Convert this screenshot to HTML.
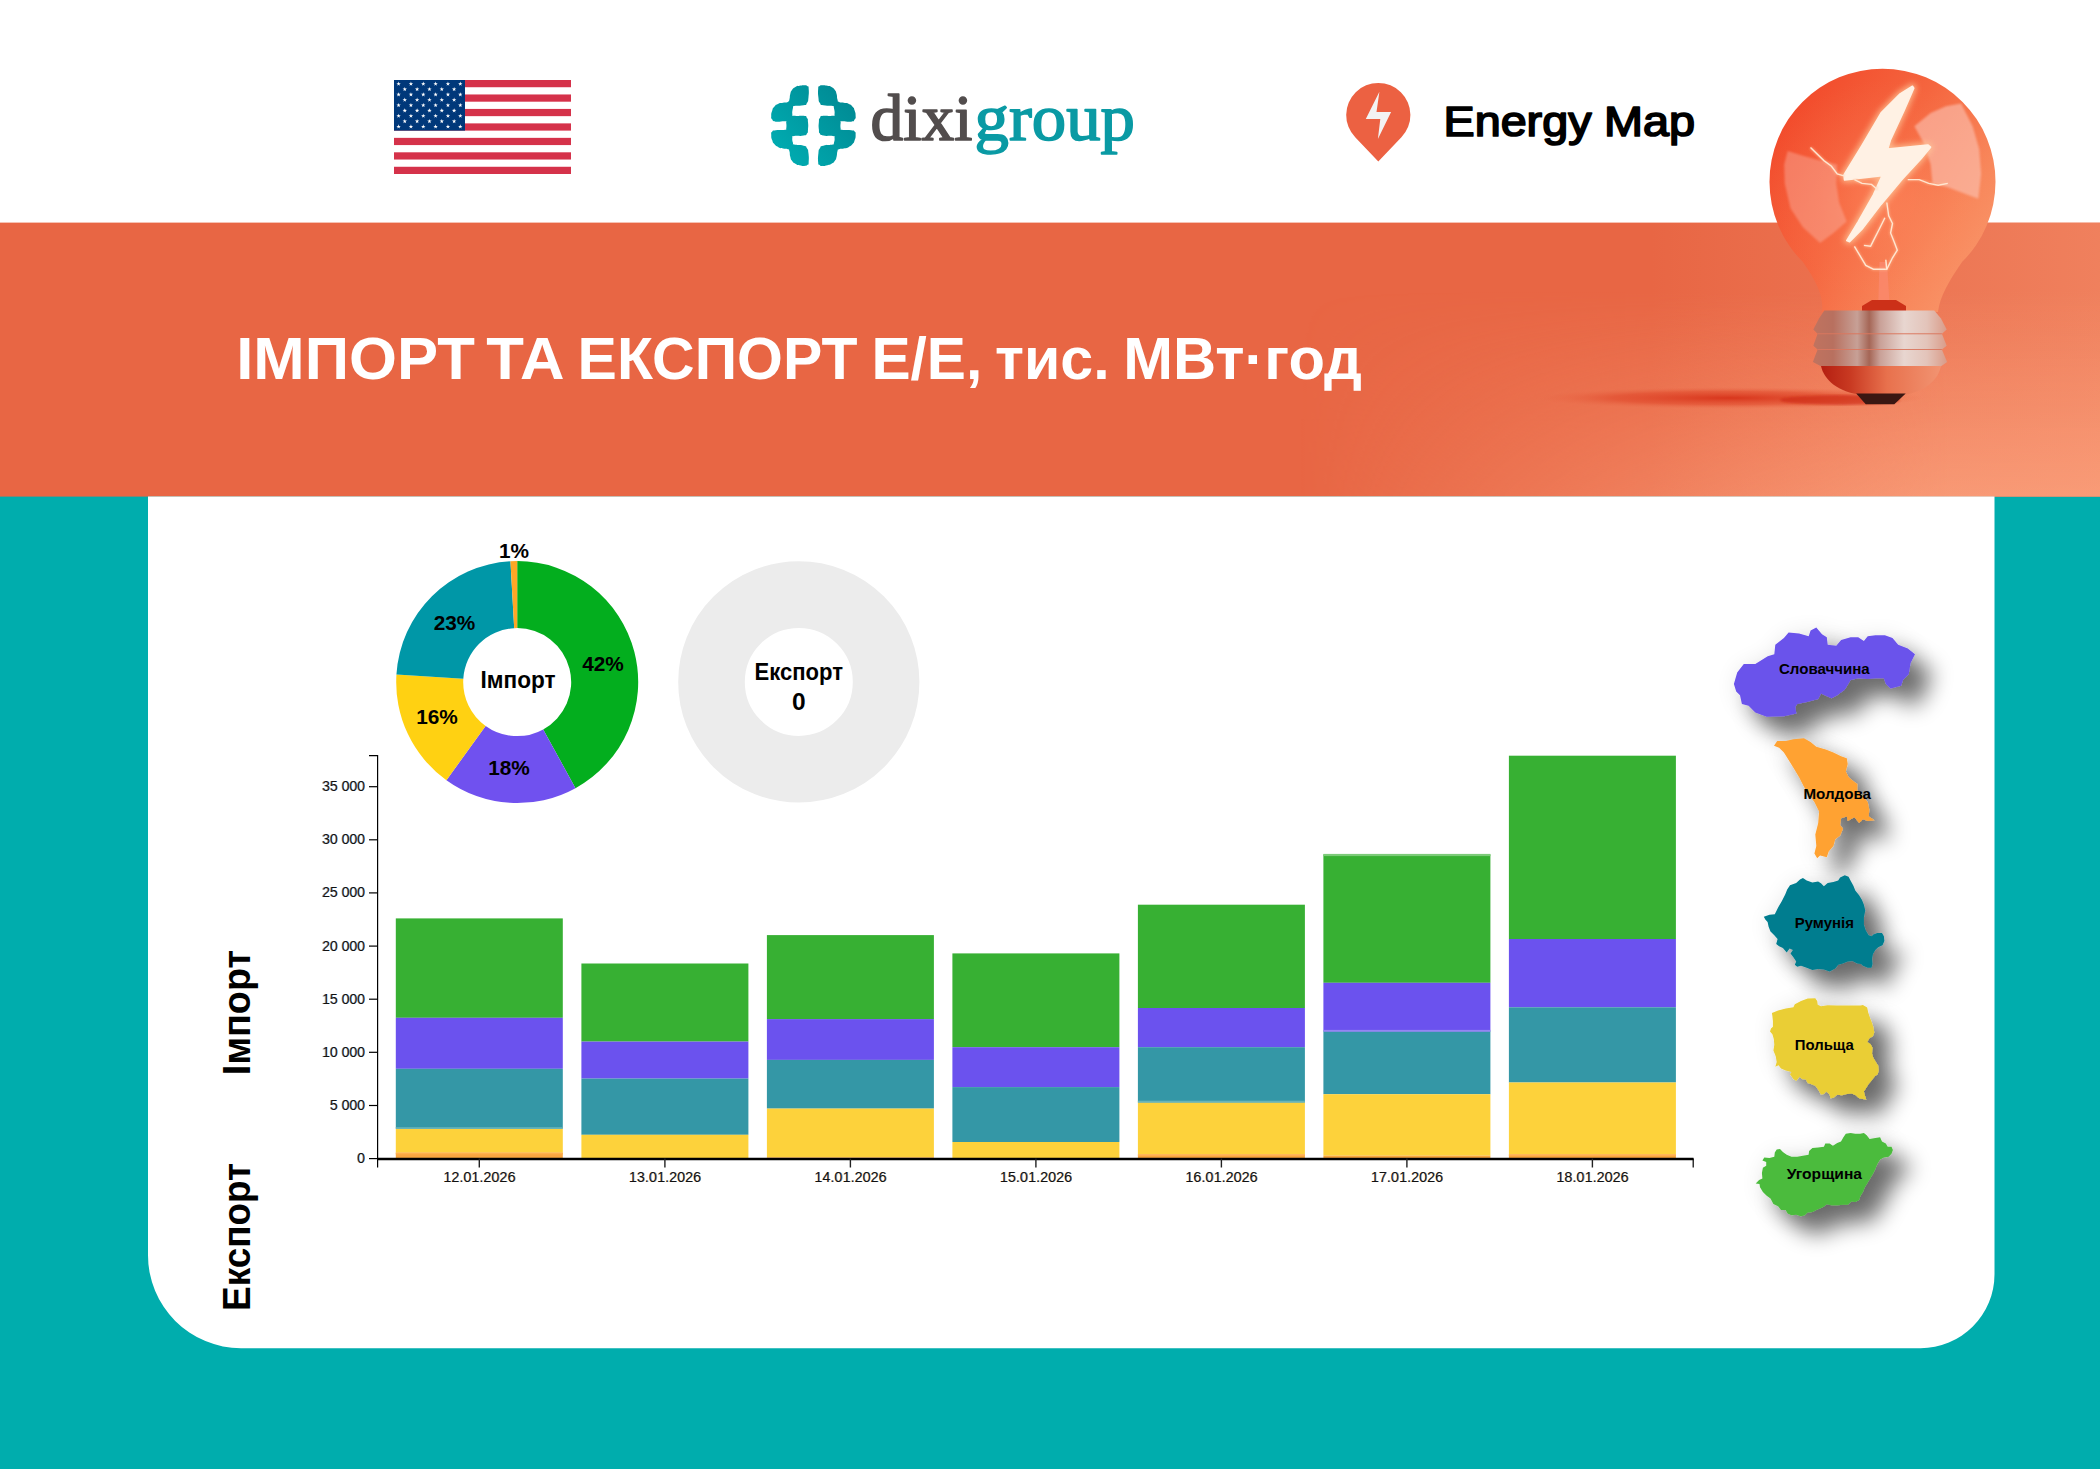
<!DOCTYPE html>
<html><head><meta charset="utf-8"><title>Import Export</title>
<style>html,body{margin:0;padding:0;background:#00ADAD;overflow:hidden;width:2100px;height:1469px}svg{display:block}</style>
</head><body>
<svg width="2100" height="1469" viewBox="0 0 2100 1469">
<defs>
<linearGradient id="bannerG" gradientUnits="userSpaceOnUse" x1="1650" y1="0" x2="2100" y2="0">
 <stop offset="0" stop-color="#F9A07C" stop-opacity="0"/><stop offset="1" stop-color="#F9A07C" stop-opacity="0.45"/>
</linearGradient>
<linearGradient id="bannerV" gradientUnits="userSpaceOnUse" x1="0" y1="290" x2="0" y2="497">
 <stop offset="0" stop-color="#FBA27E" stop-opacity="0"/><stop offset="1" stop-color="#FBA27E" stop-opacity="0.8"/>
</linearGradient>
<linearGradient id="bannerM" gradientUnits="userSpaceOnUse" x1="1300" y1="0" x2="1950" y2="0">
 <stop offset="0" stop-color="#000"/><stop offset="1" stop-color="#fff"/>
</linearGradient>
<mask id="bannerMask" maskUnits="userSpaceOnUse" x="1200" y="200" width="900" height="320"><rect x="1200" y="200" width="900" height="320" fill="url(#bannerM)"/></mask>
<filter id="ds" x="-50%" y="-50%" width="220%" height="220%">
 <feGaussianBlur in="SourceAlpha" stdDeviation="11"/>
 <feOffset dx="18" dy="18"/>
 <feComponentTransfer result="s1"><feFuncA type="linear" slope="0.55"/></feComponentTransfer>
 <feGaussianBlur in="SourceAlpha" stdDeviation="12"/>
 <feOffset dx="3" dy="3"/>
 <feComponentTransfer result="s2"><feFuncA type="linear" slope="0.12"/></feComponentTransfer>
 <feMerge><feMergeNode in="s2"/><feMergeNode in="s1"/><feMergeNode in="SourceGraphic"/></feMerge>
</filter>
</defs>
<rect x="0" y="0" width="2100" height="1469" fill="#00ADAD"/>
<rect x="0" y="0" width="2100" height="223" fill="#ffffff"/>
<rect x="0" y="222.6" width="2100" height="274" fill="#E86644"/>
<rect x="1300" y="222.6" width="800" height="274" fill="url(#bannerG)"/>
<rect x="1200" y="222.6" width="900" height="274" fill="url(#bannerV)" mask="url(#bannerMask)"/>
<path d="M148 496.6 H1994.5 V1274.2 A74 74 0 0 1 1920.5 1348.2 H241 A93 93 0 0 1 148 1255.2 Z" fill="#ffffff"/>

<text x="236.2" y="379.4" font-family="Liberation Sans, sans-serif" font-weight="700" font-size="60" fill="#ffffff" textLength="238.7" lengthAdjust="spacingAndGlyphs">ІМПОРТ</text>
<text x="486.3" y="379.4" font-family="Liberation Sans, sans-serif" font-weight="700" font-size="60" fill="#ffffff" textLength="78.3" lengthAdjust="spacingAndGlyphs">ТА</text>
<text x="577.6" y="379.4" font-family="Liberation Sans, sans-serif" font-weight="700" font-size="60" fill="#ffffff" textLength="279.9" lengthAdjust="spacingAndGlyphs">ЕКСПОРТ</text>
<text x="871.4" y="379.4" font-family="Liberation Sans, sans-serif" font-weight="700" font-size="60" fill="#ffffff" textLength="110.8" lengthAdjust="spacingAndGlyphs">Е/Е,</text>
<text x="995.1" y="379.4" font-family="Liberation Sans, sans-serif" font-weight="700" font-size="60" fill="#ffffff" textLength="114.5" lengthAdjust="spacingAndGlyphs">тис.</text>
<text x="1123.2" y="379.4" font-family="Liberation Sans, sans-serif" font-weight="700" font-size="60" fill="#ffffff" textLength="238.8" lengthAdjust="spacingAndGlyphs">МВт·год</text>
<g><rect x="394" y="80" width="177" height="94" fill="#ffffff"/><rect x="394" y="80.00" width="177" height="7.23" fill="#D5324A"/><rect x="394" y="94.46" width="177" height="7.23" fill="#D5324A"/><rect x="394" y="108.92" width="177" height="7.23" fill="#D5324A"/><rect x="394" y="123.38" width="177" height="7.23" fill="#D5324A"/><rect x="394" y="137.85" width="177" height="7.23" fill="#D5324A"/><rect x="394" y="152.31" width="177" height="7.23" fill="#D5324A"/><rect x="394" y="166.77" width="177" height="7.23" fill="#D5324A"/><rect x="394" y="80" width="71" height="50.62" fill="#00387A"/><polygon points="398.60,81.60 399.14,83.16 400.79,83.19 399.47,84.18 399.95,85.76 398.60,84.82 397.25,85.76 397.73,84.18 396.41,83.19 398.06,83.16" fill="#ffffff"/><polygon points="410.94,81.60 411.48,83.16 413.13,83.19 411.81,84.18 412.29,85.76 410.94,84.82 409.59,85.76 410.07,84.18 408.75,83.19 410.40,83.16" fill="#ffffff"/><polygon points="423.28,81.60 423.82,83.16 425.47,83.19 424.15,84.18 424.63,85.76 423.28,84.82 421.93,85.76 422.41,84.18 421.09,83.19 422.74,83.16" fill="#ffffff"/><polygon points="435.62,81.60 436.16,83.16 437.81,83.19 436.49,84.18 436.97,85.76 435.62,84.82 434.27,85.76 434.75,84.18 433.43,83.19 435.08,83.16" fill="#ffffff"/><polygon points="447.96,81.60 448.50,83.16 450.15,83.19 448.83,84.18 449.31,85.76 447.96,84.82 446.61,85.76 447.09,84.18 445.77,83.19 447.42,83.16" fill="#ffffff"/><polygon points="460.30,81.60 460.84,83.16 462.49,83.19 461.17,84.18 461.65,85.76 460.30,84.82 458.95,85.76 459.43,84.18 458.11,83.19 459.76,83.16" fill="#ffffff"/><polygon points="404.77,86.94 405.31,88.50 406.96,88.53 405.64,89.52 406.12,91.10 404.77,90.16 403.42,91.10 403.90,89.52 402.58,88.53 404.23,88.50" fill="#ffffff"/><polygon points="417.11,86.94 417.65,88.50 419.30,88.53 417.98,89.52 418.46,91.10 417.11,90.16 415.76,91.10 416.24,89.52 414.92,88.53 416.57,88.50" fill="#ffffff"/><polygon points="429.45,86.94 429.99,88.50 431.64,88.53 430.32,89.52 430.80,91.10 429.45,90.16 428.10,91.10 428.58,89.52 427.26,88.53 428.91,88.50" fill="#ffffff"/><polygon points="441.79,86.94 442.33,88.50 443.98,88.53 442.66,89.52 443.14,91.10 441.79,90.16 440.44,91.10 440.92,89.52 439.60,88.53 441.25,88.50" fill="#ffffff"/><polygon points="454.13,86.94 454.67,88.50 456.32,88.53 455.00,89.52 455.48,91.10 454.13,90.16 452.78,91.10 453.26,89.52 451.94,88.53 453.59,88.50" fill="#ffffff"/><polygon points="398.60,92.28 399.14,93.84 400.79,93.87 399.47,94.86 399.95,96.44 398.60,95.50 397.25,96.44 397.73,94.86 396.41,93.87 398.06,93.84" fill="#ffffff"/><polygon points="410.94,92.28 411.48,93.84 413.13,93.87 411.81,94.86 412.29,96.44 410.94,95.50 409.59,96.44 410.07,94.86 408.75,93.87 410.40,93.84" fill="#ffffff"/><polygon points="423.28,92.28 423.82,93.84 425.47,93.87 424.15,94.86 424.63,96.44 423.28,95.50 421.93,96.44 422.41,94.86 421.09,93.87 422.74,93.84" fill="#ffffff"/><polygon points="435.62,92.28 436.16,93.84 437.81,93.87 436.49,94.86 436.97,96.44 435.62,95.50 434.27,96.44 434.75,94.86 433.43,93.87 435.08,93.84" fill="#ffffff"/><polygon points="447.96,92.28 448.50,93.84 450.15,93.87 448.83,94.86 449.31,96.44 447.96,95.50 446.61,96.44 447.09,94.86 445.77,93.87 447.42,93.84" fill="#ffffff"/><polygon points="460.30,92.28 460.84,93.84 462.49,93.87 461.17,94.86 461.65,96.44 460.30,95.50 458.95,96.44 459.43,94.86 458.11,93.87 459.76,93.84" fill="#ffffff"/><polygon points="404.77,97.62 405.31,99.18 406.96,99.21 405.64,100.20 406.12,101.78 404.77,100.84 403.42,101.78 403.90,100.20 402.58,99.21 404.23,99.18" fill="#ffffff"/><polygon points="417.11,97.62 417.65,99.18 419.30,99.21 417.98,100.20 418.46,101.78 417.11,100.84 415.76,101.78 416.24,100.20 414.92,99.21 416.57,99.18" fill="#ffffff"/><polygon points="429.45,97.62 429.99,99.18 431.64,99.21 430.32,100.20 430.80,101.78 429.45,100.84 428.10,101.78 428.58,100.20 427.26,99.21 428.91,99.18" fill="#ffffff"/><polygon points="441.79,97.62 442.33,99.18 443.98,99.21 442.66,100.20 443.14,101.78 441.79,100.84 440.44,101.78 440.92,100.20 439.60,99.21 441.25,99.18" fill="#ffffff"/><polygon points="454.13,97.62 454.67,99.18 456.32,99.21 455.00,100.20 455.48,101.78 454.13,100.84 452.78,101.78 453.26,100.20 451.94,99.21 453.59,99.18" fill="#ffffff"/><polygon points="398.60,102.96 399.14,104.52 400.79,104.55 399.47,105.54 399.95,107.12 398.60,106.18 397.25,107.12 397.73,105.54 396.41,104.55 398.06,104.52" fill="#ffffff"/><polygon points="410.94,102.96 411.48,104.52 413.13,104.55 411.81,105.54 412.29,107.12 410.94,106.18 409.59,107.12 410.07,105.54 408.75,104.55 410.40,104.52" fill="#ffffff"/><polygon points="423.28,102.96 423.82,104.52 425.47,104.55 424.15,105.54 424.63,107.12 423.28,106.18 421.93,107.12 422.41,105.54 421.09,104.55 422.74,104.52" fill="#ffffff"/><polygon points="435.62,102.96 436.16,104.52 437.81,104.55 436.49,105.54 436.97,107.12 435.62,106.18 434.27,107.12 434.75,105.54 433.43,104.55 435.08,104.52" fill="#ffffff"/><polygon points="447.96,102.96 448.50,104.52 450.15,104.55 448.83,105.54 449.31,107.12 447.96,106.18 446.61,107.12 447.09,105.54 445.77,104.55 447.42,104.52" fill="#ffffff"/><polygon points="460.30,102.96 460.84,104.52 462.49,104.55 461.17,105.54 461.65,107.12 460.30,106.18 458.95,107.12 459.43,105.54 458.11,104.55 459.76,104.52" fill="#ffffff"/><polygon points="404.77,108.30 405.31,109.86 406.96,109.89 405.64,110.88 406.12,112.46 404.77,111.52 403.42,112.46 403.90,110.88 402.58,109.89 404.23,109.86" fill="#ffffff"/><polygon points="417.11,108.30 417.65,109.86 419.30,109.89 417.98,110.88 418.46,112.46 417.11,111.52 415.76,112.46 416.24,110.88 414.92,109.89 416.57,109.86" fill="#ffffff"/><polygon points="429.45,108.30 429.99,109.86 431.64,109.89 430.32,110.88 430.80,112.46 429.45,111.52 428.10,112.46 428.58,110.88 427.26,109.89 428.91,109.86" fill="#ffffff"/><polygon points="441.79,108.30 442.33,109.86 443.98,109.89 442.66,110.88 443.14,112.46 441.79,111.52 440.44,112.46 440.92,110.88 439.60,109.89 441.25,109.86" fill="#ffffff"/><polygon points="454.13,108.30 454.67,109.86 456.32,109.89 455.00,110.88 455.48,112.46 454.13,111.52 452.78,112.46 453.26,110.88 451.94,109.89 453.59,109.86" fill="#ffffff"/><polygon points="398.60,113.64 399.14,115.20 400.79,115.23 399.47,116.22 399.95,117.80 398.60,116.86 397.25,117.80 397.73,116.22 396.41,115.23 398.06,115.20" fill="#ffffff"/><polygon points="410.94,113.64 411.48,115.20 413.13,115.23 411.81,116.22 412.29,117.80 410.94,116.86 409.59,117.80 410.07,116.22 408.75,115.23 410.40,115.20" fill="#ffffff"/><polygon points="423.28,113.64 423.82,115.20 425.47,115.23 424.15,116.22 424.63,117.80 423.28,116.86 421.93,117.80 422.41,116.22 421.09,115.23 422.74,115.20" fill="#ffffff"/><polygon points="435.62,113.64 436.16,115.20 437.81,115.23 436.49,116.22 436.97,117.80 435.62,116.86 434.27,117.80 434.75,116.22 433.43,115.23 435.08,115.20" fill="#ffffff"/><polygon points="447.96,113.64 448.50,115.20 450.15,115.23 448.83,116.22 449.31,117.80 447.96,116.86 446.61,117.80 447.09,116.22 445.77,115.23 447.42,115.20" fill="#ffffff"/><polygon points="460.30,113.64 460.84,115.20 462.49,115.23 461.17,116.22 461.65,117.80 460.30,116.86 458.95,117.80 459.43,116.22 458.11,115.23 459.76,115.20" fill="#ffffff"/><polygon points="404.77,118.98 405.31,120.54 406.96,120.57 405.64,121.56 406.12,123.14 404.77,122.20 403.42,123.14 403.90,121.56 402.58,120.57 404.23,120.54" fill="#ffffff"/><polygon points="417.11,118.98 417.65,120.54 419.30,120.57 417.98,121.56 418.46,123.14 417.11,122.20 415.76,123.14 416.24,121.56 414.92,120.57 416.57,120.54" fill="#ffffff"/><polygon points="429.45,118.98 429.99,120.54 431.64,120.57 430.32,121.56 430.80,123.14 429.45,122.20 428.10,123.14 428.58,121.56 427.26,120.57 428.91,120.54" fill="#ffffff"/><polygon points="441.79,118.98 442.33,120.54 443.98,120.57 442.66,121.56 443.14,123.14 441.79,122.20 440.44,123.14 440.92,121.56 439.60,120.57 441.25,120.54" fill="#ffffff"/><polygon points="454.13,118.98 454.67,120.54 456.32,120.57 455.00,121.56 455.48,123.14 454.13,122.20 452.78,123.14 453.26,121.56 451.94,120.57 453.59,120.54" fill="#ffffff"/><polygon points="398.60,124.32 399.14,125.88 400.79,125.91 399.47,126.90 399.95,128.48 398.60,127.54 397.25,128.48 397.73,126.90 396.41,125.91 398.06,125.88" fill="#ffffff"/><polygon points="410.94,124.32 411.48,125.88 413.13,125.91 411.81,126.90 412.29,128.48 410.94,127.54 409.59,128.48 410.07,126.90 408.75,125.91 410.40,125.88" fill="#ffffff"/><polygon points="423.28,124.32 423.82,125.88 425.47,125.91 424.15,126.90 424.63,128.48 423.28,127.54 421.93,128.48 422.41,126.90 421.09,125.91 422.74,125.88" fill="#ffffff"/><polygon points="435.62,124.32 436.16,125.88 437.81,125.91 436.49,126.90 436.97,128.48 435.62,127.54 434.27,128.48 434.75,126.90 433.43,125.91 435.08,125.88" fill="#ffffff"/><polygon points="447.96,124.32 448.50,125.88 450.15,125.91 448.83,126.90 449.31,128.48 447.96,127.54 446.61,128.48 447.09,126.90 445.77,125.91 447.42,125.88" fill="#ffffff"/><polygon points="460.30,124.32 460.84,125.88 462.49,125.91 461.17,126.90 461.65,128.48 460.30,127.54 458.95,128.48 459.43,126.90 458.11,125.91 459.76,125.88" fill="#ffffff"/></g>
<defs><linearGradient id="dixiG" gradientUnits="userSpaceOnUse" x1="775" y1="160" x2="852" y2="92">
<stop offset="0" stop-color="#00AEB3"/><stop offset="1" stop-color="#008892"/></linearGradient></defs><path d="M808.67 88.61 C808.40 84.87 809.13 87.37 807.65 86.23 C806.18 85.10 806.97 85.37 804.25 85.21 C801.52 85.05 802.43 85.19 799.48 85.76 C796.53 86.32 797.89 85.51 795.40 86.91 C792.90 88.32 793.70 87.59 791.99 89.98 C790.29 92.36 791.15 90.88 790.29 94.06 C789.43 97.24 790.20 96.90 789.41 99.51 C788.61 102.12 790.00 100.80 787.91 101.89 C785.82 102.98 786.32 102.16 783.14 102.77 C779.97 103.39 781.33 102.43 778.38 103.73 C775.43 105.02 776.34 104.43 774.30 106.65 C772.25 108.88 773.27 107.33 772.25 110.40 C771.23 113.46 771.23 112.78 771.23 115.84 C771.23 118.91 770.78 117.66 772.25 119.59 C773.73 121.52 771.35 121.06 775.66 121.63 C779.97 122.20 781.67 120.95 785.19 121.29 C788.70 121.63 785.87 120.16 786.21 122.65 C786.55 125.15 786.55 126.40 786.21 128.78 C785.87 131.16 788.70 129.35 785.19 129.80 C781.67 130.25 779.97 129.57 775.66 130.14 C771.35 130.71 773.73 129.91 772.25 131.50 C770.78 133.09 771.23 131.95 771.23 134.90 C771.23 137.85 771.23 137.29 772.25 140.35 C773.27 143.41 772.25 141.83 774.30 144.09 C776.34 146.36 775.43 145.73 778.38 147.16 C781.33 148.59 779.97 147.70 783.14 148.38 C786.32 149.06 785.82 148.25 787.91 149.20 C790.00 150.15 788.61 148.75 789.41 151.24 C790.20 153.74 789.43 153.51 790.29 156.69 C791.15 159.86 790.29 158.39 791.99 160.77 C793.70 163.16 792.90 162.36 795.40 163.84 C797.89 165.31 796.53 164.52 799.48 165.20 C802.43 165.88 801.52 165.99 804.25 165.88 C806.97 165.76 806.18 165.99 807.65 164.86 C809.13 163.72 808.40 166.33 808.67 162.47 C808.94 158.62 809.04 158.05 808.47 153.28 C807.90 148.52 808.60 150.72 806.97 148.18 C805.34 145.64 807.88 146.86 803.57 145.66 C799.26 144.46 797.55 145.43 794.04 144.57 C790.52 143.71 793.58 145.39 793.02 143.07 C792.45 140.76 791.99 140.01 792.33 137.63 C792.68 135.25 790.29 136.61 794.04 135.93 C797.78 135.25 799.26 136.38 803.57 135.59 C807.88 134.79 805.50 135.59 806.97 133.54 C808.45 131.50 807.65 133.32 807.99 129.46 C808.33 125.60 808.33 125.83 807.99 121.97 C807.65 118.11 808.45 119.93 806.97 117.89 C805.50 115.84 807.88 116.52 803.57 115.84 C799.26 115.16 797.78 116.41 794.04 115.84 C790.29 115.28 792.68 116.87 792.33 114.14 C791.99 111.42 792.45 110.40 793.02 107.68 C793.58 104.95 790.52 106.77 794.04 105.97 C797.55 105.18 799.26 106.31 803.57 105.29 C807.88 104.27 805.34 105.52 806.97 102.91 C808.60 100.30 807.90 102.23 808.47 97.46 C809.04 92.70 808.94 92.36 808.67 88.61 Z" fill="url(#dixiG)"/><path d="M818.41 97.46 C818.97 102.23 818.27 100.30 819.90 102.91 C821.54 105.52 819.00 104.27 823.31 105.29 C827.62 106.31 829.32 105.18 832.84 105.97 C836.36 106.77 833.29 104.95 833.86 107.68 C834.43 110.40 834.88 111.42 834.54 114.14 C834.20 116.87 836.58 115.28 832.84 115.84 C829.09 116.41 827.62 115.16 823.31 115.84 C819.00 116.52 821.38 115.84 819.90 117.89 C818.43 119.93 819.22 118.11 818.88 121.97 C818.54 125.83 818.54 125.60 818.88 129.46 C819.22 133.32 818.43 131.50 819.90 133.54 C821.38 135.59 819.00 134.79 823.31 135.59 C827.62 136.38 829.09 135.25 832.84 135.93 C836.58 136.61 834.20 135.25 834.54 137.63 C834.88 140.01 834.43 140.76 833.86 143.07 C833.29 145.39 836.36 143.71 832.84 144.57 C829.32 145.43 827.62 144.46 823.31 145.66 C819.00 146.86 821.54 145.64 819.90 148.18 C818.27 150.72 818.97 148.52 818.41 153.28 C817.84 158.05 817.93 158.62 818.20 162.47 C818.48 166.33 817.75 163.72 819.22 164.86 C820.70 165.99 819.90 165.76 822.63 165.88 C825.35 165.99 824.44 165.88 827.39 165.20 C830.34 164.52 828.98 165.31 831.48 163.84 C833.97 162.36 833.18 163.16 834.88 160.77 C836.58 158.39 835.72 159.86 836.58 156.69 C837.44 153.51 836.67 153.74 837.47 151.24 C838.26 148.75 836.88 150.15 838.97 149.20 C841.05 148.25 840.55 149.06 843.73 148.38 C846.91 147.70 845.55 148.59 848.50 147.16 C851.45 145.73 850.54 146.36 852.58 144.09 C854.62 141.83 853.60 143.41 854.62 140.35 C855.64 137.29 855.64 137.85 855.64 134.90 C855.64 131.95 856.10 133.09 854.62 131.50 C853.15 129.91 855.53 130.71 851.22 130.14 C846.91 129.57 845.21 130.25 841.69 129.80 C838.17 129.35 841.01 131.16 840.67 128.78 C840.33 126.40 840.33 125.15 840.67 122.65 C841.01 120.16 838.17 121.63 841.69 121.29 C845.21 120.95 846.91 122.20 851.22 121.63 C855.53 121.06 853.15 121.52 854.62 119.59 C856.10 117.66 855.64 118.91 855.64 115.84 C855.64 112.78 855.64 113.46 854.62 110.40 C853.60 107.33 854.62 108.88 852.58 106.65 C850.54 104.43 851.45 105.02 848.50 103.73 C845.55 102.43 846.91 103.39 843.73 102.77 C840.55 102.16 841.05 102.98 838.97 101.89 C836.88 100.80 838.26 102.12 837.47 99.51 C836.67 96.90 837.44 97.24 836.58 94.06 C835.72 90.88 836.58 92.36 834.88 89.98 C833.18 87.59 833.97 88.32 831.48 86.91 C828.98 85.51 830.34 86.32 827.39 85.76 C824.44 85.19 825.35 85.05 822.63 85.21 C819.90 85.37 820.70 85.10 819.22 86.23 C817.75 87.37 818.48 84.87 818.20 88.61 C817.93 92.36 817.84 92.70 818.41 97.46 Z" fill="url(#dixiG)"/>
<text x="870.5" y="140" font-family="Liberation Serif, serif" font-size="66" fill="#524D4D" stroke="#524D4D" stroke-width="1.6" stroke-linejoin="round" textLength="102" lengthAdjust="spacingAndGlyphs">dixi</text>
<text x="974.5" y="140" font-family="Liberation Serif, serif" font-size="66" fill="#0A9AA4" stroke="#0A9AA4" stroke-width="1.6" stroke-linejoin="round" textLength="160.5" lengthAdjust="spacingAndGlyphs">group</text>
<!--EMAP-->
<path d="M1378.3 161.5 L1355.2 137.3 A32.1 32.1 0 1 1 1401.4 137.3 Z" fill="#EC6142"/>
<path d="M1379.4 91.8 L1365.8 119.1 L1380.3 119.1 L1377.9 139 L1391.1 112.1 L1376.5 112.1 Z" fill="#F3F3F3"/>
<text x="1443.5" y="136.1" font-family="Liberation Sans, sans-serif" font-weight="400" stroke="#000" stroke-width="1.7" stroke-linejoin="round" stroke-linecap="round" font-size="42.3" fill="#000000" textLength="148" lengthAdjust="spacingAndGlyphs">Energy</text>
<text x="1604" y="136.1" font-family="Liberation Sans, sans-serif" font-weight="400" stroke="#000" stroke-width="1.7" stroke-linejoin="round" stroke-linecap="round" font-size="42.3" fill="#000000" textLength="91" lengthAdjust="spacingAndGlyphs">Map</text>
<path d="M517.20 561.10 A121 121 0 0 1 575.49 788.13 L543.21 729.42 A54 54 0 0 0 517.20 628.10 Z" fill="#03AE1E"/>
<path d="M575.49 788.13 A121 121 0 0 1 446.42 780.24 L485.61 725.90 A54 54 0 0 0 543.21 729.42 Z" fill="#7051EF"/>
<path d="M446.42 780.24 A121 121 0 0 1 396.44 674.50 L463.31 678.71 A54 54 0 0 0 485.61 725.90 Z" fill="#FFD112"/>
<path d="M396.44 674.50 A121 121 0 0 1 510.45 561.29 L514.19 628.18 A54 54 0 0 0 463.31 678.71 Z" fill="#0097A7"/>
<path d="M510.45 561.29 A121 121 0 0 1 517.20 561.10 L517.20 628.10 A54 54 0 0 0 514.19 628.18 Z" fill="#FFA726"/>
<circle cx="798.8" cy="681.9" r="87.3" fill="none" stroke="#ECECEC" stroke-width="66.6"/>
<text x="514" y="557.5" font-family="Liberation Sans, sans-serif" font-weight="700" font-size="20.8" text-anchor="middle" fill="#000">1%</text>
<text x="454.5" y="630" font-family="Liberation Sans, sans-serif" font-weight="700" font-size="20.8" text-anchor="middle" fill="#000">23%</text>
<text x="603" y="671" font-family="Liberation Sans, sans-serif" font-weight="700" font-size="20.8" text-anchor="middle" fill="#000">42%</text>
<text x="437" y="723.5" font-family="Liberation Sans, sans-serif" font-weight="700" font-size="20.8" text-anchor="middle" fill="#000">16%</text>
<text x="509" y="775" font-family="Liberation Sans, sans-serif" font-weight="700" font-size="20.8" text-anchor="middle" fill="#000">18%</text>
<text x="518" y="688" font-family="Liberation Sans, sans-serif" font-weight="700" font-size="23.5" text-anchor="middle" fill="#000" textLength="75" lengthAdjust="spacingAndGlyphs">Імпорт</text>
<text x="798.7" y="680" font-family="Liberation Sans, sans-serif" font-weight="700" font-size="23.5" text-anchor="middle" fill="#000" textLength="88.5" lengthAdjust="spacingAndGlyphs">Експорт</text>
<text x="798.7" y="710" font-family="Liberation Sans, sans-serif" font-weight="700" font-size="24.5" text-anchor="middle" fill="#000">0</text>
<rect x="395.8" y="918.4" width="167" height="99.4" fill="#37B033"/>
<rect x="395.8" y="1017.8" width="167" height="51.0" fill="#6B52EE"/>
<rect x="395.8" y="1068.8" width="167" height="59.4" fill="#3497A6"/>
<rect x="395.8" y="1128.2" width="167" height="24.5" fill="#FDD23B"/>
<rect x="395.8" y="1152.7" width="167" height="5.9" fill="#F9A63F"/>
<rect x="581.4" y="963.5" width="167" height="78.1" fill="#37B033"/>
<rect x="581.4" y="1041.6" width="167" height="37.0" fill="#6B52EE"/>
<rect x="581.4" y="1078.6" width="167" height="56.2" fill="#3497A6"/>
<rect x="581.4" y="1134.8" width="167" height="23.2" fill="#FDD23B"/>
<rect x="581.4" y="1158.0" width="167" height="0.6" fill="#F9A63F"/>
<rect x="766.9" y="935.1" width="167" height="84.0" fill="#37B033"/>
<rect x="766.9" y="1019.1" width="167" height="40.8" fill="#6B52EE"/>
<rect x="766.9" y="1059.9" width="167" height="48.7" fill="#3497A6"/>
<rect x="766.9" y="1108.6" width="167" height="48.8" fill="#FDD23B"/>
<rect x="766.9" y="1157.4" width="167" height="1.2" fill="#F9A63F"/>
<rect x="952.4" y="953.4" width="167" height="93.8" fill="#37B033"/>
<rect x="952.4" y="1047.2" width="167" height="39.9" fill="#6B52EE"/>
<rect x="952.4" y="1087.1" width="167" height="54.9" fill="#3497A6"/>
<rect x="952.4" y="1142.0" width="167" height="16.0" fill="#FDD23B"/>
<rect x="952.4" y="1158.0" width="167" height="0.6" fill="#F9A63F"/>
<rect x="1137.9" y="904.7" width="167" height="103.3" fill="#37B033"/>
<rect x="1137.9" y="1008.0" width="167" height="39.2" fill="#6B52EE"/>
<rect x="1137.9" y="1047.2" width="167" height="54.9" fill="#3497A6"/>
<rect x="1137.9" y="1102.1" width="167" height="52.3" fill="#FDD23B"/>
<rect x="1137.9" y="1154.4" width="167" height="4.2" fill="#F9A63F"/>
<rect x="1323.4" y="854.4" width="167" height="128.4" fill="#37B033"/>
<rect x="1323.4" y="982.8" width="167" height="48.0" fill="#6B52EE"/>
<rect x="1323.4" y="1030.8" width="167" height="63.4" fill="#3497A6"/>
<rect x="1323.4" y="1094.2" width="167" height="61.5" fill="#FDD23B"/>
<rect x="1323.4" y="1155.7" width="167" height="2.9" fill="#F9A63F"/>
<rect x="1508.9" y="755.7" width="167" height="183.3" fill="#37B033"/>
<rect x="1508.9" y="939.0" width="167" height="68.3" fill="#6B52EE"/>
<rect x="1508.9" y="1007.3" width="167" height="75.2" fill="#3497A6"/>
<rect x="1508.9" y="1082.5" width="167" height="71.9" fill="#FDD23B"/>
<rect x="1508.9" y="1154.4" width="167" height="4.2" fill="#F9A63F"/>
<rect x="395.8" y="1127.2" width="167" height="1.8" fill="#68B4B8"/>
<rect x="1137.9" y="1100.7" width="167" height="2.1" fill="#68B4B8"/>
<rect x="1323.4" y="853.9" width="167" height="2.2" fill="#7CCB79"/>
<rect x="1323.4" y="1029.9" width="167" height="1.9" fill="#9585F2"/>
<rect x="395.8" y="1152.7" width="167" height="1.6" fill="#FFB04E"/>
<rect x="1137.9" y="1154.4" width="167" height="1.6" fill="#FFB04E"/>
<rect x="1508.9" y="1154.4" width="167" height="1.6" fill="#FFB04E"/>
<path d="M369 755.6 H377.6 V1167.4" fill="none" stroke="#000" stroke-width="1.2"/>
<path d="M377 1159.0 H1693.5" fill="none" stroke="#000" stroke-width="2.6"/>
<path d="M1693.2 1158.6 V1167.4" fill="none" stroke="#000" stroke-width="1.2"/>
<path d="M369 1158.6 H377.5" stroke="#000" stroke-width="1.2"/>
<text transform="translate(364.4,1163.1) scale(0.965,1)" font-family="Liberation Sans, sans-serif" font-size="14.6" text-anchor="end" fill="#000" opacity="0.3">0</text>
<text transform="translate(365.2,1163.1) scale(0.965,1)" font-family="Liberation Sans, sans-serif" font-size="14.6" text-anchor="end" fill="#111">0</text>
<path d="M369 1105.5 H377.5" stroke="#000" stroke-width="1.2"/>
<text transform="translate(364.4,1110.0) scale(0.965,1)" font-family="Liberation Sans, sans-serif" font-size="14.6" text-anchor="end" fill="#000" opacity="0.3">5 000</text>
<text transform="translate(365.2,1110.0) scale(0.965,1)" font-family="Liberation Sans, sans-serif" font-size="14.6" text-anchor="end" fill="#111">5 000</text>
<path d="M369 1052.3 H377.5" stroke="#000" stroke-width="1.2"/>
<text transform="translate(364.4,1056.8) scale(0.965,1)" font-family="Liberation Sans, sans-serif" font-size="14.6" text-anchor="end" fill="#000" opacity="0.3">10 000</text>
<text transform="translate(365.2,1056.8) scale(0.965,1)" font-family="Liberation Sans, sans-serif" font-size="14.6" text-anchor="end" fill="#111">10 000</text>
<path d="M369 999.2 H377.5" stroke="#000" stroke-width="1.2"/>
<text transform="translate(364.4,1003.7) scale(0.965,1)" font-family="Liberation Sans, sans-serif" font-size="14.6" text-anchor="end" fill="#000" opacity="0.3">15 000</text>
<text transform="translate(365.2,1003.7) scale(0.965,1)" font-family="Liberation Sans, sans-serif" font-size="14.6" text-anchor="end" fill="#111">15 000</text>
<path d="M369 946.1 H377.5" stroke="#000" stroke-width="1.2"/>
<text transform="translate(364.4,950.6) scale(0.965,1)" font-family="Liberation Sans, sans-serif" font-size="14.6" text-anchor="end" fill="#000" opacity="0.3">20 000</text>
<text transform="translate(365.2,950.6) scale(0.965,1)" font-family="Liberation Sans, sans-serif" font-size="14.6" text-anchor="end" fill="#111">20 000</text>
<path d="M369 892.9 H377.5" stroke="#000" stroke-width="1.2"/>
<text transform="translate(364.4,897.4) scale(0.965,1)" font-family="Liberation Sans, sans-serif" font-size="14.6" text-anchor="end" fill="#000" opacity="0.3">25 000</text>
<text transform="translate(365.2,897.4) scale(0.965,1)" font-family="Liberation Sans, sans-serif" font-size="14.6" text-anchor="end" fill="#111">25 000</text>
<path d="M369 839.8 H377.5" stroke="#000" stroke-width="1.2"/>
<text transform="translate(364.4,844.3) scale(0.965,1)" font-family="Liberation Sans, sans-serif" font-size="14.6" text-anchor="end" fill="#000" opacity="0.3">30 000</text>
<text transform="translate(365.2,844.3) scale(0.965,1)" font-family="Liberation Sans, sans-serif" font-size="14.6" text-anchor="end" fill="#111">30 000</text>
<path d="M369 786.7 H377.5" stroke="#000" stroke-width="1.2"/>
<text transform="translate(364.4,791.2) scale(0.965,1)" font-family="Liberation Sans, sans-serif" font-size="14.6" text-anchor="end" fill="#000" opacity="0.3">35 000</text>
<text transform="translate(365.2,791.2) scale(0.965,1)" font-family="Liberation Sans, sans-serif" font-size="14.6" text-anchor="end" fill="#111">35 000</text>
<path d="M479.3 1158.6 V1167.5" stroke="#222" stroke-width="1.4"/>
<text transform="translate(480.1,1182) scale(0.95,1)" font-family="Liberation Sans, sans-serif" font-size="15.2" text-anchor="middle" fill="#000" opacity="0.3">12.01.2026</text>
<text transform="translate(479.3,1182) scale(0.95,1)" font-family="Liberation Sans, sans-serif" font-size="15.2" text-anchor="middle" fill="#111">12.01.2026</text>
<path d="M664.9 1158.6 V1167.5" stroke="#222" stroke-width="1.4"/>
<text transform="translate(665.7,1182) scale(0.95,1)" font-family="Liberation Sans, sans-serif" font-size="15.2" text-anchor="middle" fill="#000" opacity="0.3">13.01.2026</text>
<text transform="translate(664.9,1182) scale(0.95,1)" font-family="Liberation Sans, sans-serif" font-size="15.2" text-anchor="middle" fill="#111">13.01.2026</text>
<path d="M850.4 1158.6 V1167.5" stroke="#222" stroke-width="1.4"/>
<text transform="translate(851.2,1182) scale(0.95,1)" font-family="Liberation Sans, sans-serif" font-size="15.2" text-anchor="middle" fill="#000" opacity="0.3">14.01.2026</text>
<text transform="translate(850.4,1182) scale(0.95,1)" font-family="Liberation Sans, sans-serif" font-size="15.2" text-anchor="middle" fill="#111">14.01.2026</text>
<path d="M1035.9 1158.6 V1167.5" stroke="#222" stroke-width="1.4"/>
<text transform="translate(1036.7,1182) scale(0.95,1)" font-family="Liberation Sans, sans-serif" font-size="15.2" text-anchor="middle" fill="#000" opacity="0.3">15.01.2026</text>
<text transform="translate(1035.9,1182) scale(0.95,1)" font-family="Liberation Sans, sans-serif" font-size="15.2" text-anchor="middle" fill="#111">15.01.2026</text>
<path d="M1221.4 1158.6 V1167.5" stroke="#222" stroke-width="1.4"/>
<text transform="translate(1222.2,1182) scale(0.95,1)" font-family="Liberation Sans, sans-serif" font-size="15.2" text-anchor="middle" fill="#000" opacity="0.3">16.01.2026</text>
<text transform="translate(1221.4,1182) scale(0.95,1)" font-family="Liberation Sans, sans-serif" font-size="15.2" text-anchor="middle" fill="#111">16.01.2026</text>
<path d="M1406.9 1158.6 V1167.5" stroke="#222" stroke-width="1.4"/>
<text transform="translate(1407.7,1182) scale(0.95,1)" font-family="Liberation Sans, sans-serif" font-size="15.2" text-anchor="middle" fill="#000" opacity="0.3">17.01.2026</text>
<text transform="translate(1406.9,1182) scale(0.95,1)" font-family="Liberation Sans, sans-serif" font-size="15.2" text-anchor="middle" fill="#111">17.01.2026</text>
<path d="M1592.4 1158.6 V1167.5" stroke="#222" stroke-width="1.4"/>
<text transform="translate(1593.2,1182) scale(0.95,1)" font-family="Liberation Sans, sans-serif" font-size="15.2" text-anchor="middle" fill="#000" opacity="0.3">18.01.2026</text>
<text transform="translate(1592.4,1182) scale(0.95,1)" font-family="Liberation Sans, sans-serif" font-size="15.2" text-anchor="middle" fill="#111">18.01.2026</text>
<text transform="translate(249.8,1075.3) rotate(-90)" font-family="Liberation Sans, sans-serif" font-weight="700" font-size="39.5" fill="#000" textLength="125.2" lengthAdjust="spacingAndGlyphs">Імпорт</text>
<text transform="translate(249.8,1310.9) rotate(-90)" font-family="Liberation Sans, sans-serif" font-weight="700" font-size="39.5" fill="#000" textLength="147.9" lengthAdjust="spacingAndGlyphs">Експорт</text>
<polygon points="1733.9,683.9 1737.2,672.4 1743.8,663.9 1755.3,663.9 1767.7,656.2 1774.3,654.3 1775.3,644.8 1783.9,638.1 1788.6,632.4 1799.1,633.4 1808.7,636.2 1810.6,630.5 1816.3,627.6 1822.0,634.3 1826.8,637.2 1827.7,644.8 1836.3,645.7 1841.1,640.0 1850.6,637.2 1858.2,637.2 1863.9,641.0 1867.7,636.2 1875.4,635.3 1884.9,635.3 1892.5,638.1 1898.2,644.8 1907.8,648.6 1915.0,654.3 1910.6,662.9 1908.7,674.3 1903.0,680.1 1901.1,685.8 1890.6,688.6 1885.9,683.9 1883.9,678.2 1875.4,678.2 1867.7,679.1 1858.2,678.2 1850.6,680.1 1844.9,689.6 1837.2,695.3 1831.5,698.2 1821.0,693.4 1818.2,699.1 1806.7,702.0 1797.2,703.9 1795.3,706.7 1796.3,713.4 1783.9,716.3 1766.7,716.7 1755.3,712.5 1748.6,705.8 1741.9,703.9 1740.0,695.3 1736.2,691.5" fill="#6B52EB" filter="url(#ds)"/>
<polygon points="1774.0,745.8 1777.2,741.1 1785.8,741.1 1793.4,739.2 1803.9,738.2 1810.6,742.0 1816.3,746.8 1825.8,749.6 1833.4,752.5 1841.1,756.3 1846.8,758.2 1847.7,763.9 1845.8,771.6 1848.7,777.3 1854.4,782.0 1857.3,783.9 1857.3,790.6 1863.0,796.3 1867.7,802.1 1869.3,809.7 1868.7,816.4 1874.4,820.2 1867.7,821.1 1863.0,819.2 1859.2,823.0 1854.4,817.3 1847.7,821.1 1846.8,816.4 1841.1,818.3 1840.1,824.9 1843.0,828.7 1840.1,835.4 1835.3,839.2 1833.4,845.9 1828.7,851.6 1826.8,857.3 1820.1,855.4 1817.2,858.3 1814.4,853.5 1816.3,845.9 1815.3,834.5 1818.2,823.0 1819.1,811.6 1814.4,802.1 1808.7,794.4 1803.9,786.8 1799.1,777.3 1793.4,767.7 1788.6,760.1 1783.9,752.5 1779.1,747.7" fill="#FFA233" filter="url(#ds)"/>
<polygon points="1763.8,916.7 1769.5,914.8 1774.8,914.3 1778.1,907.6 1781.9,901.0 1785.3,894.3 1787.2,889.5 1790.0,885.3 1796.2,882.9 1800.0,879.5 1802.9,878.1 1806.7,880.5 1812.4,882.4 1818.1,881.4 1821.0,883.3 1823.9,886.2 1827.7,882.9 1833.4,881.9 1838.2,880.5 1840.1,877.6 1844.8,875.2 1848.6,876.7 1850.5,880.5 1853.4,885.7 1855.3,890.5 1859.1,895.3 1862.0,900.0 1863.9,904.8 1865.3,910.5 1863.9,917.2 1863.9,924.8 1865.8,930.5 1868.6,935.3 1872.0,936.2 1872.9,934.8 1877.2,932.9 1882.0,932.9 1883.9,936.2 1884.4,941.0 1882.5,945.3 1878.2,947.2 1875.3,950.1 1872.9,954.3 1872.0,959.1 1872.5,963.9 1871.5,967.7 1867.7,967.7 1862.9,965.8 1861.0,963.9 1857.2,963.4 1852.4,961.0 1847.7,961.5 1842.9,963.4 1838.2,964.8 1835.3,968.6 1829.6,971.5 1823.9,969.6 1818.1,969.1 1812.4,970.1 1806.7,967.7 1801.0,965.8 1797.2,966.7 1794.8,964.8 1796.2,961.5 1793.4,957.2 1790.5,953.4 1792.9,950.1 1789.6,948.6 1786.7,952.4 1782.9,948.1 1779.1,946.2 1776.2,943.9 1777.6,939.1 1774.3,935.3 1770.5,931.5 1768.6,926.7 1767.6,921.9 1765.3,919.6" fill="#047D8F" filter="url(#ds)"/>
<polygon points="1771.9,1012.9 1778.1,1010.5 1785.7,1008.6 1793.4,1007.2 1794.8,1004.3 1801.0,1001.0 1807.7,998.6 1815.3,998.3 1817.2,1001.0 1817.7,1004.8 1821.0,1006.2 1827.7,1005.3 1836.2,1005.5 1844.8,1005.5 1854.4,1005.5 1860.5,1005.5 1862.9,1005.0 1867.2,1007.6 1868.2,1012.4 1870.1,1018.1 1872.0,1022.9 1873.4,1027.6 1874.2,1032.4 1872.9,1036.2 1869.6,1038.1 1867.2,1041.9 1870.6,1044.3 1872.5,1047.7 1872.0,1053.4 1873.4,1058.1 1875.8,1062.0 1878.2,1065.8 1878.7,1070.5 1877.7,1074.3 1874.8,1076.2 1872.0,1080.1 1868.6,1083.9 1865.8,1088.6 1863.9,1091.5 1864.8,1095.3 1866.3,1099.6 1862.9,1099.1 1859.1,1098.2 1855.8,1095.3 1851.5,1093.4 1846.7,1093.9 1842.0,1095.3 1837.2,1094.8 1833.4,1097.7 1830.5,1098.2 1829.6,1094.4 1826.2,1091.5 1823.9,1093.9 1821.0,1094.4 1818.1,1089.6 1815.3,1085.8 1811.5,1084.3 1807.7,1082.9 1805.8,1079.6 1801.9,1079.1 1799.6,1076.7 1796.2,1081.0 1793.4,1079.1 1790.0,1074.3 1791.5,1072.0 1785.7,1070.5 1781.0,1068.6 1778.6,1065.3 1775.3,1066.7 1776.7,1062.0 1775.7,1056.2 1773.4,1050.5 1774.3,1044.8 1773.8,1039.1 1772.4,1034.3 1770.0,1031.5 1771.0,1028.6 1772.9,1026.7 1772.9,1021.0 1772.4,1016.2" fill="#EACE36" filter="url(#ds)"/>
<polygon points="1755.7,1183.4 1759.1,1180.0 1762.4,1178.6 1761.9,1172.9 1762.9,1167.7 1766.2,1165.7 1766.2,1161.9 1762.4,1160.5 1764.3,1157.6 1769.5,1158.1 1774.3,1156.7 1774.8,1152.4 1776.7,1149.5 1780.0,1149.1 1782.9,1151.9 1786.7,1154.8 1791.5,1156.7 1797.2,1156.7 1802.9,1155.7 1808.6,1154.8 1809.1,1151.0 1812.4,1148.1 1818.1,1147.6 1823.9,1146.7 1825.3,1143.4 1829.6,1143.4 1832.9,1145.7 1837.2,1142.9 1841.0,1141.4 1843.4,1137.2 1845.8,1133.8 1850.5,1132.9 1855.3,1133.8 1860.1,1133.8 1863.9,1132.9 1866.7,1135.3 1869.6,1139.1 1875.3,1138.1 1880.1,1137.2 1882.0,1141.4 1885.8,1143.4 1887.7,1146.7 1891.5,1146.7 1892.9,1150.0 1891.5,1153.8 1888.7,1156.7 1883.9,1157.6 1880.1,1159.6 1877.2,1164.3 1875.3,1169.1 1873.4,1172.9 1870.6,1177.7 1867.7,1182.4 1864.8,1187.2 1862.9,1192.0 1860.5,1195.8 1859.1,1200.1 1855.3,1202.0 1851.5,1201.5 1847.7,1204.8 1842.9,1204.8 1837.2,1205.3 1831.5,1205.3 1826.7,1204.3 1822.9,1207.2 1817.2,1209.6 1812.4,1212.0 1807.7,1212.4 1804.8,1215.3 1801.0,1216.3 1796.2,1214.8 1791.5,1215.3 1787.6,1213.4 1785.7,1210.1 1781.0,1210.1 1778.1,1206.2 1773.4,1203.9 1770.5,1198.6 1766.7,1195.8 1762.9,1192.0 1760.0,1187.2 1759.5,1183.9" fill="#4CBB3E" filter="url(#ds)"/>
<text x="1779" y="674" font-family="Liberation Sans, sans-serif" font-weight="700" font-size="15.3" fill="#000" textLength="90.7" lengthAdjust="spacingAndGlyphs">Словаччина</text>
<text x="1803.5" y="798.6" font-family="Liberation Sans, sans-serif" font-weight="700" font-size="15.3" fill="#000" textLength="67.5" lengthAdjust="spacingAndGlyphs">Молдова</text>
<text x="1794.8" y="927.8" font-family="Liberation Sans, sans-serif" font-weight="700" font-size="15.3" fill="#000" textLength="59.1" lengthAdjust="spacingAndGlyphs">Румунія</text>
<text x="1794.8" y="1049.8" font-family="Liberation Sans, sans-serif" font-weight="700" font-size="15.3" fill="#000" textLength="59.1" lengthAdjust="spacingAndGlyphs">Польща</text>
<text x="1786.7" y="1178.6" font-family="Liberation Sans, sans-serif" font-weight="700" font-size="15.3" fill="#000" textLength="75.3" lengthAdjust="spacingAndGlyphs">Угорщина</text>
<defs>
<linearGradient id="globeG" gradientUnits="userSpaceOnUse" x1="1780" y1="110" x2="1995" y2="250">
 <stop offset="0" stop-color="#F2492A"/><stop offset="0.45" stop-color="#F5663F"/><stop offset="0.8" stop-color="#F8875B"/><stop offset="1" stop-color="#F99468"/>
</linearGradient>
<radialGradient id="globeHi" gradientUnits="userSpaceOnUse" cx="1880" cy="200" r="120">
 <stop offset="0" stop-color="#FF8A60" stop-opacity="0.55"/><stop offset="0.5" stop-color="#FF8A60" stop-opacity="0.15"/><stop offset="1" stop-color="#FF8A60" stop-opacity="0"/>
</radialGradient>
<linearGradient id="metalG" gradientUnits="userSpaceOnUse" x1="1813" y1="0" x2="1947" y2="0">
 <stop offset="0" stop-color="#C0735F"/><stop offset="0.15" stop-color="#B8705F"/><stop offset="0.33" stop-color="#C7A096"/><stop offset="0.42" stop-color="#A56656"/><stop offset="0.5" stop-color="#C9A097"/><stop offset="0.68" stop-color="#E8D6D0"/><stop offset="0.85" stop-color="#E3C4BA"/><stop offset="1" stop-color="#D99B88"/>
</linearGradient>
<linearGradient id="bowlG" gradientUnits="userSpaceOnUse" x1="1820" y1="0" x2="1942" y2="0">
 <stop offset="0" stop-color="#B31D10"/><stop offset="0.25" stop-color="#C93A22"/><stop offset="0.55" stop-color="#E8714D"/><stop offset="1" stop-color="#F29472"/>
</linearGradient>
<radialGradient id="shadG" gradientUnits="userSpaceOnUse" cx="0" cy="0" r="1" gradientTransform="translate(1730 398) scale(195 11)">
 <stop offset="0" stop-color="#D42A12" stop-opacity="0.85"/><stop offset="0.6" stop-color="#DC3A1E" stop-opacity="0.45"/><stop offset="1" stop-color="#E86644" stop-opacity="0"/>
</radialGradient>
<filter id="glow" x="-30%" y="-30%" width="160%" height="160%"><feGaussianBlur stdDeviation="3"/></filter>
<filter id="soft" x="-10%" y="-10%" width="120%" height="120%"><feGaussianBlur stdDeviation="0.8"/></filter>
</defs>
<ellipse cx="1730" cy="398" rx="195" ry="11" fill="url(#shadG)"/>
<ellipse cx="1840" cy="400" rx="60" ry="5" fill="#C9200C" opacity="0.55" filter="url(#soft)"/>
<path d="M1822 312 C1824 296 1816 281 1803 262 A113 113 0 1 1 1962 262 C1949 281 1940 296 1938 312 Z" fill="url(#globeG)"/>
<path d="M1822 312 C1824 296 1816 281 1803 262 A113 113 0 1 1 1962 262 C1949 281 1940 296 1938 312 Z" fill="url(#globeHi)"/>
<polygon points="1787.7,151.0 1802.9,155.8 1820.1,160.6 1837.2,164.4 1836.3,183.4 1839.1,202.5 1846.7,221.6 1833.4,233.0 1820.1,242.9 1802.9,227.3 1790.5,208.2 1784.8,183.4 1784.2,164.4" fill="#FBB5A6" opacity="0.42" filter="url(#soft)"/>
<polygon points="1914.4,126.2 1930.6,112.9 1945.9,106.2 1961.1,103.4 1972.6,126.2 1979.2,149.1 1981.1,173.9 1978.3,198.7 1963.0,193.0 1947.8,187.2 1932.5,183.4 1930.6,164.4 1923.9,143.4" fill="#FCC4B5" opacity="0.6" filter="url(#soft)"/>
<path d="M1879.5 262 L1878 312 L1890 312 L1887 262 Z" fill="#F9876A" opacity="0.9"/>
<path d="M1862 306 L1872 300 L1896 300 L1906 306 L1906 312 L1862 312 Z" fill="#CC3018"/>
<polygon points="1912.5,86.2 1900.1,93.8 1881.1,112.9 1862.0,145.3 1843.9,174.9 1844.5,180.0 1882.0,175.8 1873.4,194.9 1858.2,221.6 1846.7,240.6 1849.6,241.8 1862.0,229.2 1881.1,204.4 1902.0,179.6 1921.1,158.7 1930.6,147.2 1927.8,144.9 1887.7,149.1 1890.6,139.6 1903.9,111.0 1913.8,88.1" fill="#FFC89A" stroke="#FFC89A" stroke-width="5" stroke-linejoin="round" opacity="0.85" filter="url(#glow)"/>
<polygon points="1912.5,86.2 1900.1,93.8 1881.1,112.9 1862.0,145.3 1843.9,174.9 1844.5,180.0 1882.0,175.8 1873.4,194.9 1858.2,221.6 1846.7,240.6 1849.6,241.8 1862.0,229.2 1881.1,204.4 1902.0,179.6 1921.1,158.7 1930.6,147.2 1927.8,144.9 1887.7,149.1 1890.6,139.6 1903.9,111.0 1913.8,88.1" fill="#FFF1E4" stroke="#FFF1E4" stroke-width="1.5" stroke-linejoin="round"/>
<polyline points="1810.5,147.6 1823.9,160.6 1831.5,166.3 1837.2,173.9 1843.9,175.8" fill="none" stroke="#FFB890" stroke-width="3" opacity="0.5" filter="url(#soft)"/>
<polyline points="1810.5,147.6 1823.9,160.6 1831.5,166.3 1837.2,173.9 1843.9,175.8" fill="none" stroke="#FFEAD6" stroke-width="1.4" opacity="0.95"/>
<polyline points="1854.4,179.6 1862.0,183.4 1871.5,184.4 1877.2,189.2" fill="none" stroke="#FFB890" stroke-width="3" opacity="0.5" filter="url(#soft)"/>
<polyline points="1854.4,179.6 1862.0,183.4 1871.5,184.4 1877.2,189.2" fill="none" stroke="#FFEAD6" stroke-width="1.4" opacity="0.95"/>
<polyline points="1907.7,179.6 1919.2,179.6 1928.7,183.4 1938.2,185.3 1947.8,183.4" fill="none" stroke="#FFB890" stroke-width="3" opacity="0.5" filter="url(#soft)"/>
<polyline points="1907.7,179.6 1919.2,179.6 1928.7,183.4 1938.2,185.3 1947.8,183.4" fill="none" stroke="#FFEAD6" stroke-width="1.4" opacity="0.95"/>
<polyline points="1886.8,202.5 1888.7,215.8 1892.5,223.5 1890.6,233.0 1894.4,242.5 1897.3,250.2 1892.5,257.8 1886.8,269.2 1873.4,269.2 1865.8,265.4 1860.1,255.9 1854.4,246.3" fill="none" stroke="#FFB890" stroke-width="3" opacity="0.5" filter="url(#soft)"/>
<polyline points="1886.8,202.5 1888.7,215.8 1892.5,223.5 1890.6,233.0 1894.4,242.5 1897.3,250.2 1892.5,257.8 1886.8,269.2 1873.4,269.2 1865.8,265.4 1860.1,255.9 1854.4,246.3" fill="none" stroke="#FFEAD6" stroke-width="1.4" opacity="0.95"/>
<polyline points="1884.9,217.7 1879.2,229.2 1873.4,240.6 1870.6,246.3 1863.9,245.4" fill="none" stroke="#FFB890" stroke-width="3" opacity="0.5" filter="url(#soft)"/>
<polyline points="1884.9,217.7 1879.2,229.2 1873.4,240.6 1870.6,246.3 1863.9,245.4" fill="none" stroke="#FFEAD6" stroke-width="1.4" opacity="0.95"/>
<polyline points="1886.8,269.2 1885.8,259.7" fill="none" stroke="#FFB890" stroke-width="3" opacity="0.5" filter="url(#soft)"/>
<polyline points="1886.8,269.2 1885.8,259.7" fill="none" stroke="#FFEAD6" stroke-width="1.4" opacity="0.95"/>
<polygon points="1824.3,310.5 1934.3,310.5 1941.0,318.6 1946.7,329.5 1941.9,333.8 1817.6,333.8 1813.3,329.5 1819.0,318.6" fill="url(#metalG)"/>
<polygon points="1817.6,333.8 1941.9,333.8 1946.7,345.7 1941.9,349.5 1817.6,349.5 1813.3,345.7" fill="url(#metalG)"/>
<polygon points="1817.6,349.5 1941.9,349.5 1947.1,361.9 1941.0,366.2 1821.0,366.2 1812.9,361.9" fill="url(#metalG)"/>
<polyline points="1817.6,333.8 1941.9,333.8" stroke="#D9775F" stroke-width="1" fill="none" opacity="0.9"/>
<polyline points="1817.6,349.5 1941.9,349.5" stroke="#D9775F" stroke-width="1" fill="none" opacity="0.9"/>
<path d="M1821 366 C1824 380 1838 392 1862 395 L1904 395 C1926 391 1938 380 1941 366 Z" fill="url(#bowlG)"/>
<polygon points="1856.2,393.6 1905.7,393.6 1894.3,404.3 1865.7,404.3" fill="#3A1712"/>
</svg>
</body></html>
